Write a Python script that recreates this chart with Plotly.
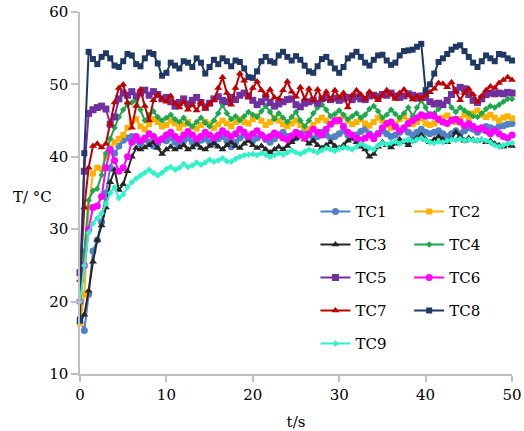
import plotly.graph_objects as go

# Sampling times (s), 0.5 s interval
t_s = [i * 0.5 for i in range(101)]

tc1 = [17.5, 16.0, 21.0, 27.0, 28.5, 31.0, 35.0, 38.5, 40.5, 41.5,
       42.3, 42.6, 42.8, 42.3, 41.8, 42.4, 42.0, 41.5, 41.8, 42.4,
       42.2, 42.6, 42.0, 41.6, 42.2, 42.6, 42.0, 41.8, 42.3, 42.5,
       42.0, 41.8, 42.5, 42.8, 42.2, 41.4, 42.0, 42.6, 43.0, 42.5,
       42.2, 42.6, 43.0, 42.4, 42.0, 42.5, 43.0, 43.4, 42.8, 42.3,
       42.6, 43.2, 43.6, 43.0, 42.5, 42.8, 43.4, 43.0, 42.6, 42.8,
       43.2, 43.6, 43.0, 42.6, 43.0, 43.5, 43.8, 43.2, 42.8, 43.2,
       43.6, 43.2, 42.8, 43.0, 43.4, 43.8, 43.4, 43.0, 43.4, 43.8,
       43.4, 43.2, 43.4, 43.6, 43.2, 42.8, 43.2, 43.6, 43.2, 43.6,
       44.0, 43.8, 43.4, 43.8, 44.2, 44.0, 43.8, 44.2, 44.3, 44.5,
       44.6]

tc2 = [17.0, 21.0, 33.0, 37.7, 38.5, 38.3, 40.0, 41.2, 42.0, 42.5,
       43.0, 44.0, 45.0, 45.2, 44.2, 43.8, 44.5, 45.2, 44.8, 44.2,
       44.4, 45.0, 44.6, 44.0, 44.5, 44.8, 44.2, 43.9, 44.4, 44.8,
       44.5, 44.0, 44.5, 45.0, 44.6, 44.2, 44.8, 45.2, 44.8, 44.6,
       45.2, 45.6, 45.0, 44.4, 44.8, 45.4, 45.0, 44.5, 44.2, 44.6,
       45.0, 44.4, 44.0, 43.8, 44.4, 45.0, 45.4, 45.0, 44.5, 44.8,
       45.2, 45.6, 45.0, 44.5, 44.8, 45.2, 44.6, 44.3, 44.8, 45.4,
       45.0, 44.4, 44.0, 44.5, 45.2, 45.6, 45.0, 44.5, 44.8, 45.3,
       44.6, 44.4, 44.6, 45.0, 45.4, 45.7, 45.2, 44.8, 45.2, 45.8,
       45.4, 46.0, 46.4, 45.8, 45.5, 45.8, 45.4, 45.0, 45.4, 45.6,
       45.3]

tc3 = [17.2, 18.2, 21.5, 25.5, 28.5, 30.5, 33.0, 36.5, 38.2, 35.4,
       36.2, 38.0, 40.0, 41.2, 41.0, 41.3, 41.6, 42.0, 41.2, 40.4,
       41.0, 41.4, 41.0, 41.3, 41.6, 41.0, 41.3, 41.8, 41.2, 41.0,
       41.5, 41.9, 41.4, 41.0, 41.6, 42.0, 41.5, 41.2, 41.8, 42.2,
       41.6, 41.2, 41.5, 41.0, 40.6, 41.0, 41.4, 41.0, 41.5, 42.0,
       42.6, 43.0, 42.4, 41.8, 42.2, 41.6, 41.2, 41.6, 42.0, 41.5,
       41.2, 41.6, 42.2, 42.6, 42.0, 41.4, 41.0, 40.0, 40.4, 41.4,
       42.0, 41.6, 41.3, 41.8, 42.4, 42.0, 41.6, 42.2, 42.6, 43.0,
       42.4, 42.0, 42.4, 42.8, 42.4, 42.0, 42.5, 43.4, 42.8, 42.2,
       42.6, 42.4, 42.2, 42.4, 42.0, 42.2, 41.8, 41.6, 41.4, 41.6,
       41.5]

tc4 = [20.0, 27.0, 34.0, 35.3, 35.6, 37.5, 40.5, 42.5, 44.0, 45.5,
       46.5, 47.2, 47.5, 47.8, 46.5, 45.0, 45.8, 46.3, 45.5, 45.0,
       45.4, 45.8, 45.2, 44.8, 45.4, 44.6, 44.2, 44.8, 45.4, 44.7,
       44.2, 45.0, 46.0, 47.2, 46.0, 45.2, 45.6, 45.0, 45.6, 46.2,
       45.8, 45.5, 46.3, 47.0, 46.2, 45.2, 46.0, 45.4, 44.8, 45.5,
       46.2, 45.0, 44.2, 45.0, 46.0, 46.8, 47.2, 46.5, 45.6, 45.9,
       46.4, 45.8, 45.2, 45.6, 46.0, 45.4, 45.8, 46.6, 47.0, 46.3,
       45.4, 45.8, 46.5, 45.9, 45.4, 46.0, 46.8, 45.6, 46.8, 47.8,
       46.8, 45.6, 46.0, 46.6, 47.2, 47.8, 46.8, 46.2, 46.8, 46.4,
       46.0, 45.6, 45.5, 46.0, 46.6, 47.0, 46.8, 47.2, 47.6, 48.0,
       48.0]

tc5 = [24.0, 38.0, 46.0, 46.5, 46.8, 47.0, 46.6, 44.5, 45.5, 48.0,
       48.8, 48.5, 49.0, 48.4, 48.8, 49.2, 48.5, 49.0, 48.6, 48.0,
       48.2, 47.6, 47.0, 47.5, 48.0, 47.3, 47.8, 48.2, 47.5, 46.9,
       47.4, 48.0, 48.3, 47.8, 47.6, 48.2, 47.9, 48.5, 48.8, 48.4,
       47.8, 47.2, 47.6, 48.2, 47.5, 47.0, 47.3, 47.6, 47.9, 48.0,
       47.2, 46.9, 47.4, 47.6, 47.8, 47.4, 48.0, 48.2, 47.9, 48.1,
       47.8, 48.0, 48.2, 47.9, 48.3, 48.0, 47.9, 48.4, 48.5, 48.3,
       48.6, 48.5, 48.8, 48.4, 48.2, 48.4, 48.7, 48.5, 48.1, 48.4,
       48.2, 47.6, 47.3, 47.4, 47.2, 47.8, 48.6, 49.2, 49.6, 49.4,
       48.6, 47.8, 47.5, 48.0, 48.6, 48.8, 48.7, 48.8, 48.7, 48.9,
       48.8]

tc6 = [20.0, 25.0, 30.0, 33.0, 33.2, 34.5, 38.5, 41.0, 39.5, 38.0,
       38.5, 40.0, 42.0, 42.8, 42.2, 42.6, 43.2, 42.8, 42.2, 42.5,
       43.0, 43.4, 42.8, 42.4, 43.0, 43.5, 43.0, 42.5, 42.8, 43.4,
       43.0, 42.6, 43.0, 43.6, 43.2, 42.8, 43.2, 43.8, 43.4, 42.8,
       43.2, 43.6, 43.0, 42.6, 42.8, 43.3, 43.0, 42.6, 42.4, 42.9,
       43.4, 43.0, 42.6, 43.2, 43.8, 43.4, 43.0, 43.8, 44.5, 45.0,
       45.0, 44.2, 43.4, 43.0, 42.6, 42.3, 42.6, 43.0, 42.5, 43.2,
       44.0, 44.6, 44.8, 44.2, 43.6, 44.0, 44.6, 45.0, 45.4, 45.8,
       45.6, 45.8, 45.6, 45.2, 44.8, 44.6, 45.0, 45.2, 44.8, 44.3,
       44.6, 44.2, 43.8, 44.0, 43.6, 43.2, 43.6, 43.2, 42.8, 42.6,
       43.0]

tc7 = [23.0, 33.0, 38.5, 41.5, 41.8, 41.3, 41.8, 44.5, 47.5, 49.5,
       50.0, 47.5, 44.0, 47.0, 49.3, 47.0, 45.0, 47.8, 48.6, 48.0,
       47.6, 48.4, 47.4, 46.8, 47.6, 46.5, 47.2, 46.4, 47.5, 46.6,
       47.3, 47.8, 49.5, 51.0, 48.8, 47.2, 49.5, 51.5, 50.5, 48.2,
       49.5, 50.4, 49.2, 48.5, 49.3, 48.2, 48.0, 49.2, 50.4, 49.0,
       48.3, 49.6, 48.0, 49.4, 47.8, 49.3, 48.0, 49.0, 47.9, 49.2,
       48.2, 48.8, 46.8, 48.5, 49.2, 48.6, 48.0, 49.0, 48.4, 47.8,
       48.5, 49.2, 48.6, 48.0, 48.8, 49.3, 48.5, 47.9, 48.4, 48.0,
       48.5, 48.9, 49.4, 50.2, 50.1, 49.6, 50.3, 49.0, 47.8, 48.8,
       49.4, 48.6, 47.6, 48.4, 49.2, 49.7, 49.5, 50.2, 50.6, 51.0,
       50.6]

tc8 = [17.5, 40.5, 54.5, 53.5, 52.8, 53.8, 54.3, 53.6, 52.6, 52.4,
       53.2, 54.2, 54.0, 52.8, 52.5, 53.6, 54.4, 54.2, 52.9, 51.2,
       51.6, 53.0, 52.6, 52.2, 53.2, 53.0, 52.4, 53.6, 53.0, 51.5,
       52.4, 53.4, 52.8, 53.6, 53.2, 52.5, 53.3, 53.1, 52.2, 51.0,
       50.9, 51.8, 53.2, 53.8, 53.2, 53.0, 54.0, 54.5, 53.8, 53.3,
       53.9, 53.4, 52.6, 51.8, 51.6, 52.5, 53.5, 53.8, 53.0, 52.2,
       51.6, 52.4, 53.6, 54.0, 54.5, 53.8, 53.0, 52.6, 53.4, 54.0,
       54.1, 53.3, 52.7, 53.0, 54.0, 54.6, 54.7, 54.8, 55.2, 55.6,
       49.2, 50.0, 51.5, 53.1, 53.6, 54.2, 54.8, 55.2, 55.4, 54.6,
       53.8, 53.0, 52.4, 53.2, 54.0, 53.6, 53.2, 54.2, 54.1, 53.6,
       53.3]

tc9 = [20.0, 25.0, 29.5, 30.8, 31.5, 32.2, 33.5, 35.0, 35.8, 34.3,
       34.8, 35.8, 36.5, 37.0, 37.4, 37.8, 38.2, 37.8, 37.4, 37.8,
       38.3, 38.6, 38.2, 38.5, 39.0, 38.6, 38.8, 39.2, 38.9, 39.2,
       39.6, 39.3, 39.5, 39.8, 39.4, 39.3, 39.7, 40.0, 40.2, 40.3,
       40.4, 40.2, 40.5, 40.3, 40.0, 40.2, 40.5, 40.3, 40.6, 40.9,
       40.6, 40.4, 40.7, 41.0, 40.8, 40.6, 40.9, 41.2, 41.0, 40.8,
       41.1, 41.3, 41.2, 41.0, 41.4, 41.8, 41.5, 41.2, 41.0, 41.6,
       41.9, 41.7, 41.9, 42.1, 41.8, 42.2, 42.4, 42.1, 42.4, 42.6,
       42.3, 42.0, 41.9, 42.1, 42.0, 42.2, 42.4, 42.3, 42.5, 42.2,
       42.4, 42.3, 42.2, 42.4, 42.2, 42.0, 41.6, 41.4, 41.6, 41.8,
       41.9]

names = ["TC1", "TC2", "TC3", "TC4", "TC5", "TC6", "TC7", "TC8", "TC9"]
series = [tc1, tc2, tc3, tc4, tc5, tc6, tc7, tc8, tc9]
colors = ["#4f81c7", "#ffb000", "#262626", "#1ea84e", "#7030a0",
          "#ff00ff", "#c00000", "#1f3864", "#2ef2c8"]
symbols = ["circle", "square", "triangle-up", "diamond", "square",
           "circle", "triangle-up", "square", "diamond"]
sizes = [7, 6, 7, 5, 7, 7, 7, 6, 5]
# left legend column: TC1, TC3, TC5, TC7, TC9; right column: TC2, TC4, TC6, TC8
legend_ref = ["legend", "legend2", "legend", "legend2", "legend",
              "legend2", "legend", "legend2", "legend"]

SERIF = "DejaVu Serif"
FS = 15

fig = go.Figure()
for name, y, c, s, sz, lg in zip(names, series, colors, symbols, sizes, legend_ref):
    fig.add_trace(go.Scatter(
        x=t_s, y=y, name=name, mode="lines+markers",
        line=dict(color=c, width=2),
        marker=dict(color=c, symbol=s, size=sz, line=dict(width=0)),
        legend=lg, legendgroup=name, cliponaxis=False,
    ))

axis_col = "#bfbfbf"
legend_common = dict(
    font=dict(family=SERIF, size=FS, color="black"),
    bgcolor="rgba(0,0,0,0)", borderwidth=0,
    orientation="v", tracegroupgap=10.5,
    xref="paper", yref="paper", xanchor="left", yanchor="top",
)

fig.update_layout(
    width=524, height=431,
    margin=dict(l=80, r=12, t=12, b=57),
    paper_bgcolor="white", plot_bgcolor="white",
    font=dict(family=SERIF, size=FS, color="black"),
    xaxis=dict(
        range=[0, 50], tickvals=[0, 10, 20, 30, 40, 50],
        showgrid=False, zeroline=False, automargin=False,
        showline=True, linecolor=axis_col, linewidth=1.5,
        ticks="outside", ticklen=6, tickcolor=axis_col, tickwidth=1.5,
        tickfont=dict(family=SERIF, size=FS, color="black"),
        title=dict(text="t/s", font=dict(family=SERIF, size=FS), standoff=14),
    ),
    yaxis=dict(
        range=[10, 60], tickvals=[10, 20, 30, 40, 50, 60],
        showgrid=False, zeroline=False, automargin=False,
        showline=True, linecolor=axis_col, linewidth=1.5,
        ticks="outside", ticklen=7, tickcolor=axis_col, tickwidth=1.5,
        tickfont=dict(family=SERIF, size=FS, color="black"),
    ),
    legend=dict(x=0.545, y=0.494, **legend_common),
    legend2=dict(x=0.762, y=0.494, **legend_common),
    annotations=[dict(
        text="T/ °C", xref="paper", yref="paper",
        x=-0.16, y=0.49, xanchor="left", yanchor="middle",
        showarrow=False, font=dict(family=SERIF, size=FS, color="black"),
    )],
)

fig.write_html("out.html")
